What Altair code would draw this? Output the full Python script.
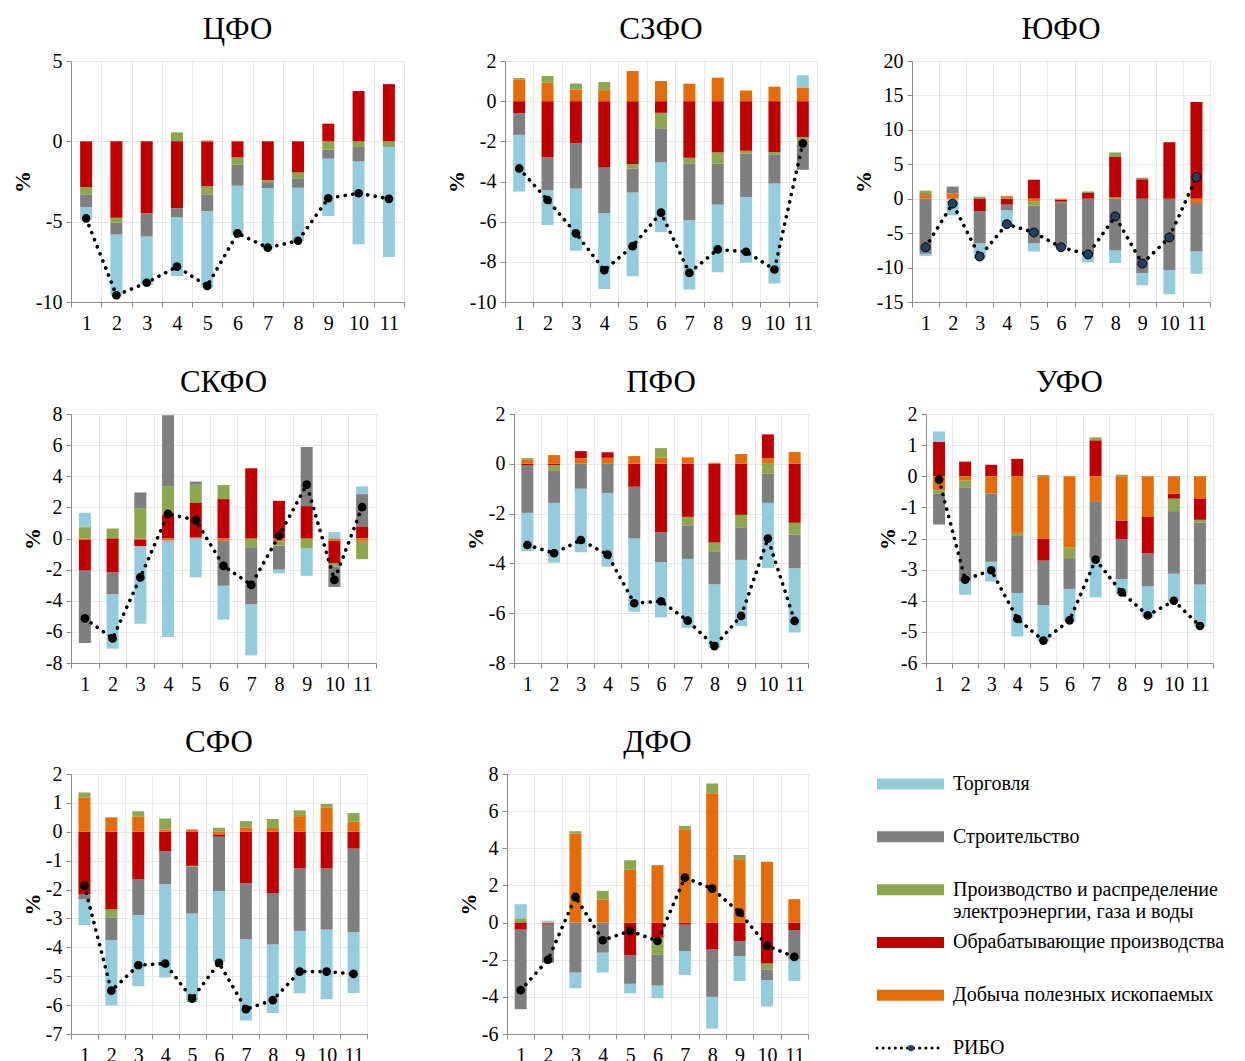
import altair as alt
import pandas as pd

MONTHS = list(range(1, 12))
SERIES = ["Торговля", "Строительство",
          "Производство и распределение электроэнергии, газа и воды",
          "Обрабатывающие производства", "Добыча полезных ископаемых"]
COLORS = ["#93CDDD", "#7F7F7F", "#8BA84F", "#C00000", "#E46C0A"]
# stacking order from zero outward (as in the original Excel chart)
STACK_ORDER = [4, 3, 2, 1, 0]

TRADE = {
    "ЦФО": [-0.75, -3.8, -3.0, -3.65, -4.75, -3.05, -3.75, -3.33, -3.57, -5.15, -6.85],
    "СЗФО": [-2.82, -1.74, -3.1, -3.77, -4.17, -3.47, -3.46, -3.37, -3.28, -4.98, 0.62],
    "ЮФО": [-0.33, -2.43, -2.22, -2.28, -1.19, -0.05, -1.14, -1.81, -1.77, -3.48, -3.23],
    "СКФО": [0.92, -3.5, -4.98, -6.2, -2.49, -2.18, -3.28, -0.25, -1.76, 0.41, 0.5],
    "ПФО": [-1.54, -2.4, -2.55, -2.96, -2.94, -2.22, -2.76, -2.55, -2.65, -2.61, -2.58],
    "УФО": [0.34, -0.43, -0.63, -1.4, -1.17, -1.05, -1.24, -0.48, -1.0, -0.89, -1.35],
    "СФО": [-0.89, -2.25, -2.47, -3.23, -3.06, -2.45, -2.81, -2.37, -2.16, -2.42, -2.11],
    "ДФО": [0.77, 0.1, -0.85, -1.07, -0.53, -0.68, -1.28, -1.71, -1.33, -1.42, -1.17],
}
CONSTRUCTION = {
    "ЦФО": [-0.8, -0.75, -1.45, -0.56, -1.05, -1.3, -0.38, -0.55, -0.56, -0.9, -0.05],
    "СЗФО": [-1.08, -1.63, -2.25, -2.28, -1.2, -1.7, -2.8, -2.03, -2.17, -1.45, -1.29],
    "ЮФО": [-8.0, 0.96, -4.68, -0.81, -5.48, -6.43, -8.1, -7.52, -10.8, -10.38, -7.05],
    "СКФО": [-4.66, -1.41, 1.05, 4.55, 0.21, -2.88, -3.67, -1.55, 3.8, -1.29, 2.08],
    "ПФО": [-1.92, -1.28, -1.0, -1.17, -2.08, -1.2, -1.35, -1.3, -1.31, -1.17, -1.36],
    "УФО": [-1.0, -3.03, -2.19, -1.83, -1.43, -0.99, -1.85, -1.28, -1.06, -2.01, -1.99],
    "СФО": [-0.18, -0.8, -1.23, -1.14, -1.62, -1.88, -1.94, -1.78, -2.16, -2.11, -2.89],
    "ДФО": [-4.29, -2.05, -2.69, -1.62, -1.53, -1.65, -1.43, -2.55, -0.82, -0.59, -1.57],
}
UTILITIES = {
    "ЦФО": [-0.45, -0.3, 0.0, 0.56, -0.5, -0.46, -0.12, -0.4, -0.52, -0.35, -0.3],
    "СЗФО": [0.07, 0.33, 0.3, 0.4, -0.22, -0.77, -0.3, -0.57, -0.13, -0.12, -0.33],
    "ЮФО": [0.55, 0.0, 0.3, 0.15, -0.57, -0.19, 0.2, 0.62, 0.24, 0.0, 0.0],
    "СКФО": [0.73, 0.64, 1.91, 1.85, 1.16, 0.9, -0.56, -0.26, -0.64, -0.23, -1.18],
    "ПФО": [0.07, -0.24, 0.0, 0.02, 0.0, 0.38, -0.34, -0.38, -0.5, -0.4, -0.47],
    "УФО": [-0.1, -0.21, 0.0, -0.1, 0.04, -0.33, 0.1, 0.05, 0.0, -0.4, -0.09],
    "СФО": [0.18, -0.28, 0.18, 0.38, -0.03, 0.14, 0.22, 0.31, 0.2, 0.13, 0.3],
    "ДФО": [0.22, 0.0, 0.12, 0.47, 0.52, -0.93, 0.18, 0.52, 0.23, -0.3, 0.0],
}
MANUFACTURING = {
    "ЦФО": [-2.85, -4.75, -4.48, -4.17, -2.8, -1.0, -2.42, -1.94, 1.1, 3.13, 3.56],
    "СЗФО": [-0.6, -2.8, -2.1, -3.3, -3.13, -0.58, -2.82, -2.55, -2.47, -2.53, -1.8],
    "ЮФО": [0.12, 0.0, -1.8, -0.86, 2.76, -0.29, 0.86, 5.86, 2.81, 8.19, 14.05],
    "СКФО": [-2.0, -2.17, -0.43, 1.52, 2.23, 2.53, 4.51, 2.42, 2.08, -1.44, 0.77],
    "ПФО": [-0.05, -0.05, 0.28, 0.22, -0.92, -2.75, -2.13, -3.16, -2.05, 0.95, -2.37],
    "УФО": [1.1, 0.47, 0.37, 0.56, -0.71, 0.0, 1.15, -0.6, -1.17, -0.16, -0.69],
    "СФО": [-2.16, -2.68, -1.65, -0.67, -1.18, -0.08, -1.78, -2.12, -1.27, -1.27, -0.58],
    "ДФО": [-0.38, -0.07, 0.0, 0.0, -1.76, -0.81, -0.11, -1.45, -0.99, -2.21, -0.4],
}
MINING = {
    "ЦФО": [0.0, 0.0, 0.02, 0.0, 0.05, 0.03, 0.0, 0.0, 0.0, 0.0, 0.0],
    "СЗФО": [1.08, 0.92, 0.58, 0.55, 1.5, 1.0, 0.87, 1.17, 0.53, 0.72, 0.67],
    "ЮФО": [0.5, 0.8, 0.0, 0.28, -0.43, -0.14, 0.0, 0.24, 0.0, 0.0, -0.62],
    "СКФО": [-0.06, 0.0, -0.06, -0.13, 0.06, -0.15, 0.0, -0.19, 0.0, -0.15, -0.15],
    "ПФО": [0.16, 0.35, 0.23, 0.24, 0.31, 0.25, 0.26, 0.04, 0.39, 0.23, 0.47],
    "УФО": [-0.45, -0.14, -0.56, -1.82, -2.0, -2.3, -0.8, -1.42, -1.31, -0.56, -0.71],
    "СФО": [1.18, 0.5, 0.53, 0.08, 0.08, -0.09, 0.15, 0.13, 0.54, 0.83, 0.35],
    "ДФО": [0.0, -0.04, 4.8, 1.24, 2.84, 3.09, 5.03, 6.97, 3.41, 3.27, 1.26],
}
RIBO = {
    "ЦФО": [-4.8, -9.58, -8.8, -7.8, -9.0, -5.73, -6.62, -6.19, -3.54, -3.23, -3.58],
    "СЗФО": [-3.35, -4.92, -6.58, -8.42, -7.22, -5.55, -8.55, -7.38, -7.5, -8.38, -2.1],
    "ЮФО": [-7.05, -0.71, -8.4, -3.7, -4.9, -7.05, -8.1, -2.57, -9.43, -5.62, 3.14],
    "СКФО": [-5.13, -6.42, -2.5, 1.59, 1.18, -1.76, -2.98, 0.17, 3.46, -2.66, 2.02],
    "ПФО": [-3.26, -3.59, -3.06, -3.65, -5.6, -5.52, -6.3, -7.32, -6.11, -3.0, -6.31],
    "УФО": [-0.11, -3.32, -3.02, -4.58, -5.28, -4.63, -2.68, -3.73, -4.47, -4.0, -4.81],
    "СФО": [-1.87, -5.5, -4.62, -4.56, -5.78, -4.54, -6.14, -5.83, -4.84, -4.84, -4.92],
    "ДФО": [-3.64, -2.0, 1.38, -0.95, -0.45, -0.99, 2.42, 1.83, 0.54, -1.24, -1.85],
}

Y_DOMAIN = {"ЦФО": (-10, 5, 5), "СЗФО": (-10, 2, 2), "ЮФО": (-15, 20, 5),
            "СКФО": (-8, 8, 2), "ПФО": (-8, 2, 2), "УФО": (-6, 2, 1),
            "СФО": (-7, 2, 1), "ДФО": (-6, 8, 2)}
SIZE = {"ЦФО": (333, 241), "СЗФО": (312, 241), "ЮФО": (298, 241),
        "СКФО": (305, 249), "ПФО": (294, 249), "УФО": (287, 249),
        "СФО": (296, 260), "ДФО": (301, 260)}

LEGEND_LABELS = ["Торговля", "Строительство",
                 "Производство и распределение\nэлектроэнергии, газа и воды",
                 "Обрабатывающие производства", "Добыча полезных ископаемых", "РИБО"]

FONT = "Liberation Serif"
color_scale = alt.Scale(domain=SERIES, range=COLORS)


def panel(name):
    rows = []
    for s_idx, (series, src) in enumerate(zip(SERIES, [TRADE, CONSTRUCTION, UTILITIES, MANUFACTURING, MINING])):
        for m, v in zip(MONTHS, src[name]):
            rows.append({"m": m, "s": series, "v": v, "o": STACK_ORDER[s_idx]})
    df = pd.DataFrame(rows)
    rdf = pd.DataFrame({"m": MONTHS, "v": RIBO[name]})
    lo, hi, step = Y_DOMAIN[name]
    w, h = SIZE[name]
    xenc = alt.X("m:O", title=None,
                 scale=alt.Scale(paddingInner=0, paddingOuter=0),
                 axis=alt.Axis(labelAngle=0, tickBand="extent", grid=True,
                               tickSize=5, labelPadding=6))
    yscale = alt.Scale(domain=[lo, hi], nice=False)
    yaxis = alt.Axis(values=list(range(lo, hi + 1, step)), tickCount=30, title="%",
                     labelExpr="'' + datum.value", tickSize=5, labelPadding=4,
                     labelOverlap=False, labelFlush=False,
                     titleFontWeight="bold", titleFontSize=22, titlePadding=1)
    bars = alt.Chart(df).mark_bar(size=12).encode(
        x=xenc,
        y=alt.Y("v:Q", stack="zero", scale=yscale, axis=yaxis),
        color=alt.Color("s:N", scale=color_scale, legend=None),
        order=alt.Order("o:Q"),
    )
    line = alt.Chart(rdf).mark_line(strokeDash=[0.1, 7.5], strokeCap="round",
                                    strokeWidth=3.6, color="black").encode(
        x=alt.X("m:O"), y=alt.Y("v:Q"))
    if name == "ЮФО":
        pts = alt.Chart(rdf).mark_point(filled=True, size=80, color="#243F60",
                                        stroke="black", strokeWidth=1, opacity=1)
    else:
        pts = alt.Chart(rdf).mark_point(filled=True, size=75, color="black", opacity=1)
    pts = pts.encode(x=alt.X("m:O"), y=alt.Y("v:Q"))
    return alt.layer(bars, line, pts).properties(
        width=w, height=h,
        title=alt.TitleParams(name, fontSize=31, font=FONT, fontWeight="normal",
                              color="black", offset=5))


# legend panel
ldf = pd.DataFrame({"name": SERIES + ["РИБО"], "label": LEGEND_LABELS,
                    "idx": list(range(len(LEGEND_LABELS)))})
ly = alt.Y("idx:Q", scale=alt.Scale(domain=[-0.19, 5.49], reverse=True), axis=None)
sw = alt.Chart(ldf).transform_filter("datum.idx < 5").mark_rule(strokeWidth=11).encode(
    x=alt.value(16), x2=alt.value(83), y=ly,
    color=alt.Color("name:N", scale=color_scale, legend=None))
rl = alt.Chart(ldf).transform_filter("datum.idx == 5").mark_rule(
    strokeWidth=3, strokeDash=[0.1, 6], strokeCap="round", color="black").encode(
    x=alt.value(16), x2=alt.value(83), y=ly)
rp = alt.Chart(ldf).transform_filter("datum.idx == 5").mark_point(
    filled=True, size=40, color="#243F60", opacity=1).encode(x=alt.value(50), y=ly)
lt = alt.Chart(ldf).mark_text(align="left", baseline="middle", font=FONT, fontSize=20,
                              color="black", lineBreak="\n").encode(
    x=alt.value(92), y=ly, text="label:N")
legend = alt.layer(sw, rl, rp, lt).properties(
    width=370, height=300, view=alt.ViewBackground(strokeOpacity=0))

row1 = alt.hconcat(panel("ЦФО"),
                   alt.hconcat(panel("СЗФО"), panel("ЮФО"), spacing=33),
                   spacing=39)
row2 = alt.hconcat(panel("СКФО"),
                   alt.hconcat(panel("ПФО"), panel("УФО"), spacing=66),
                   spacing=86)
row3 = alt.hconcat(panel("СФО"),
                   alt.hconcat(panel("ДФО"), legend, spacing=52),
                   spacing=88)

chart = alt.vconcat(alt.vconcat(row1, row2, spacing=32), row3, spacing=31).configure_axis(
    labelFont=FONT, labelFontSize=20, labelColor="black", titleFont=FONT,
    titleColor="black", domainColor="#8C8C8C", tickColor="#8C8C8C",
    gridColor="#E8E8E8", labelFontWeight="normal",
).configure_view(stroke="#E8E8E8").properties(
    padding={"left": 2, "top": 5, "right": 5, "bottom": 5})

chart.save("out.html", embed_options={"renderer": "svg", "actions": False})
